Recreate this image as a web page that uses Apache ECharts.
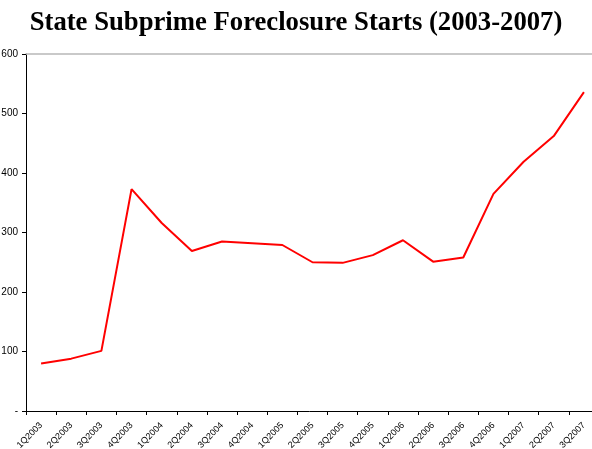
<!DOCTYPE html>
<html>
<head>
<meta charset="utf-8">
<script src="https://cdn.jsdelivr.net/npm/echarts@6/dist/echarts.min.js"></script>
<style>
  html, body { margin: 0; padding: 0; background: #ffffff; }
  #chart { width: 592px; height: 449px; }
</style>
</head>
<body>
<div id="chart"></div>
<script>
// Quarterly subprime foreclosure starts for the state
const quarters = [
  '1Q2003', '2Q2003', '3Q2003', '4Q2003',
  '1Q2004', '2Q2004', '3Q2004', '4Q2004',
  '1Q2005', '2Q2005', '3Q2005', '4Q2005',
  '1Q2006', '2Q2006', '3Q2006', '4Q2006',
  '1Q2007', '2Q2007', '3Q2007'
];
const foreclosureStarts = [
  80, 88, 101, 373,
  316, 269, 285, 282,
  279, 250, 249, 262,
  287, 251, 258, 365,
  419, 462, 536
];
const yTicks = { min: 0, max: 600, step: 100 };

const chart = echarts.init(document.getElementById('chart'));
chart.setOption({
  animation: false,
  backgroundColor: '#ffffff',
  title: {
    text: 'State Subprime Foreclosure Starts (2003-2007)',
    left: 'center',
    top: 5,
    textStyle: {
      fontFamily: '"Liberation Serif", "Times New Roman", serif',
      fontWeight: 'bold',
      fontSize: 26.7,
      color: '#000000'
    }
  },
  // plot area runs slightly past the right edge of the canvas
  grid: {
    left: 26, top: 54, width: 573, height: 357,
    containLabel: false,
    outerBoundsMode: 'none'
  },
  xAxis: [{
    type: 'category',
    data: quarters,
    boundaryGap: true,
    axisLine: { lineStyle: { color: '#000000', width: 1 } },
    axisTick: { show: true, length: 4, alignWithLabel: false, lineStyle: { color: '#000000' } },
    axisLabel: {
      interval: 0,
      rotate: 45,
      margin: 13,
      fontFamily: '"Liberation Sans", Arial, sans-serif',
      fontSize: 9,
      color: '#000000'
    },
    splitLine: { show: false }
  }, {
    // top edge of the plot area
    type: 'category',
    data: quarters,
    position: 'top',
    axisLine: { lineStyle: { color: '#b8b8b8', width: 1.5 } },
    axisTick: { show: false },
    axisLabel: { show: false }
  }],
  yAxis: {
    type: 'value',
    min: yTicks.min,
    max: yTicks.max,
    interval: yTicks.step,
    axisLine: { show: true, lineStyle: { color: '#000000', width: 1 } },
    axisTick: { show: true, length: 4, lineStyle: { color: '#000000' } },
    axisLabel: {
      margin: 8,
      fontFamily: '"Liberation Sans", Arial, sans-serif',
      fontSize: 10,
      color: '#000000',
      formatter: v => (v === 0 ? '-' : String(v))
    },
    splitLine: { show: false }
  },
  series: [{
    type: 'line',
    data: foreclosureStarts,
    symbol: 'none',
    lineStyle: { color: '#ff0000', width: 2 },
    clip: false
  }]
});
</script>
</body>
</html>
